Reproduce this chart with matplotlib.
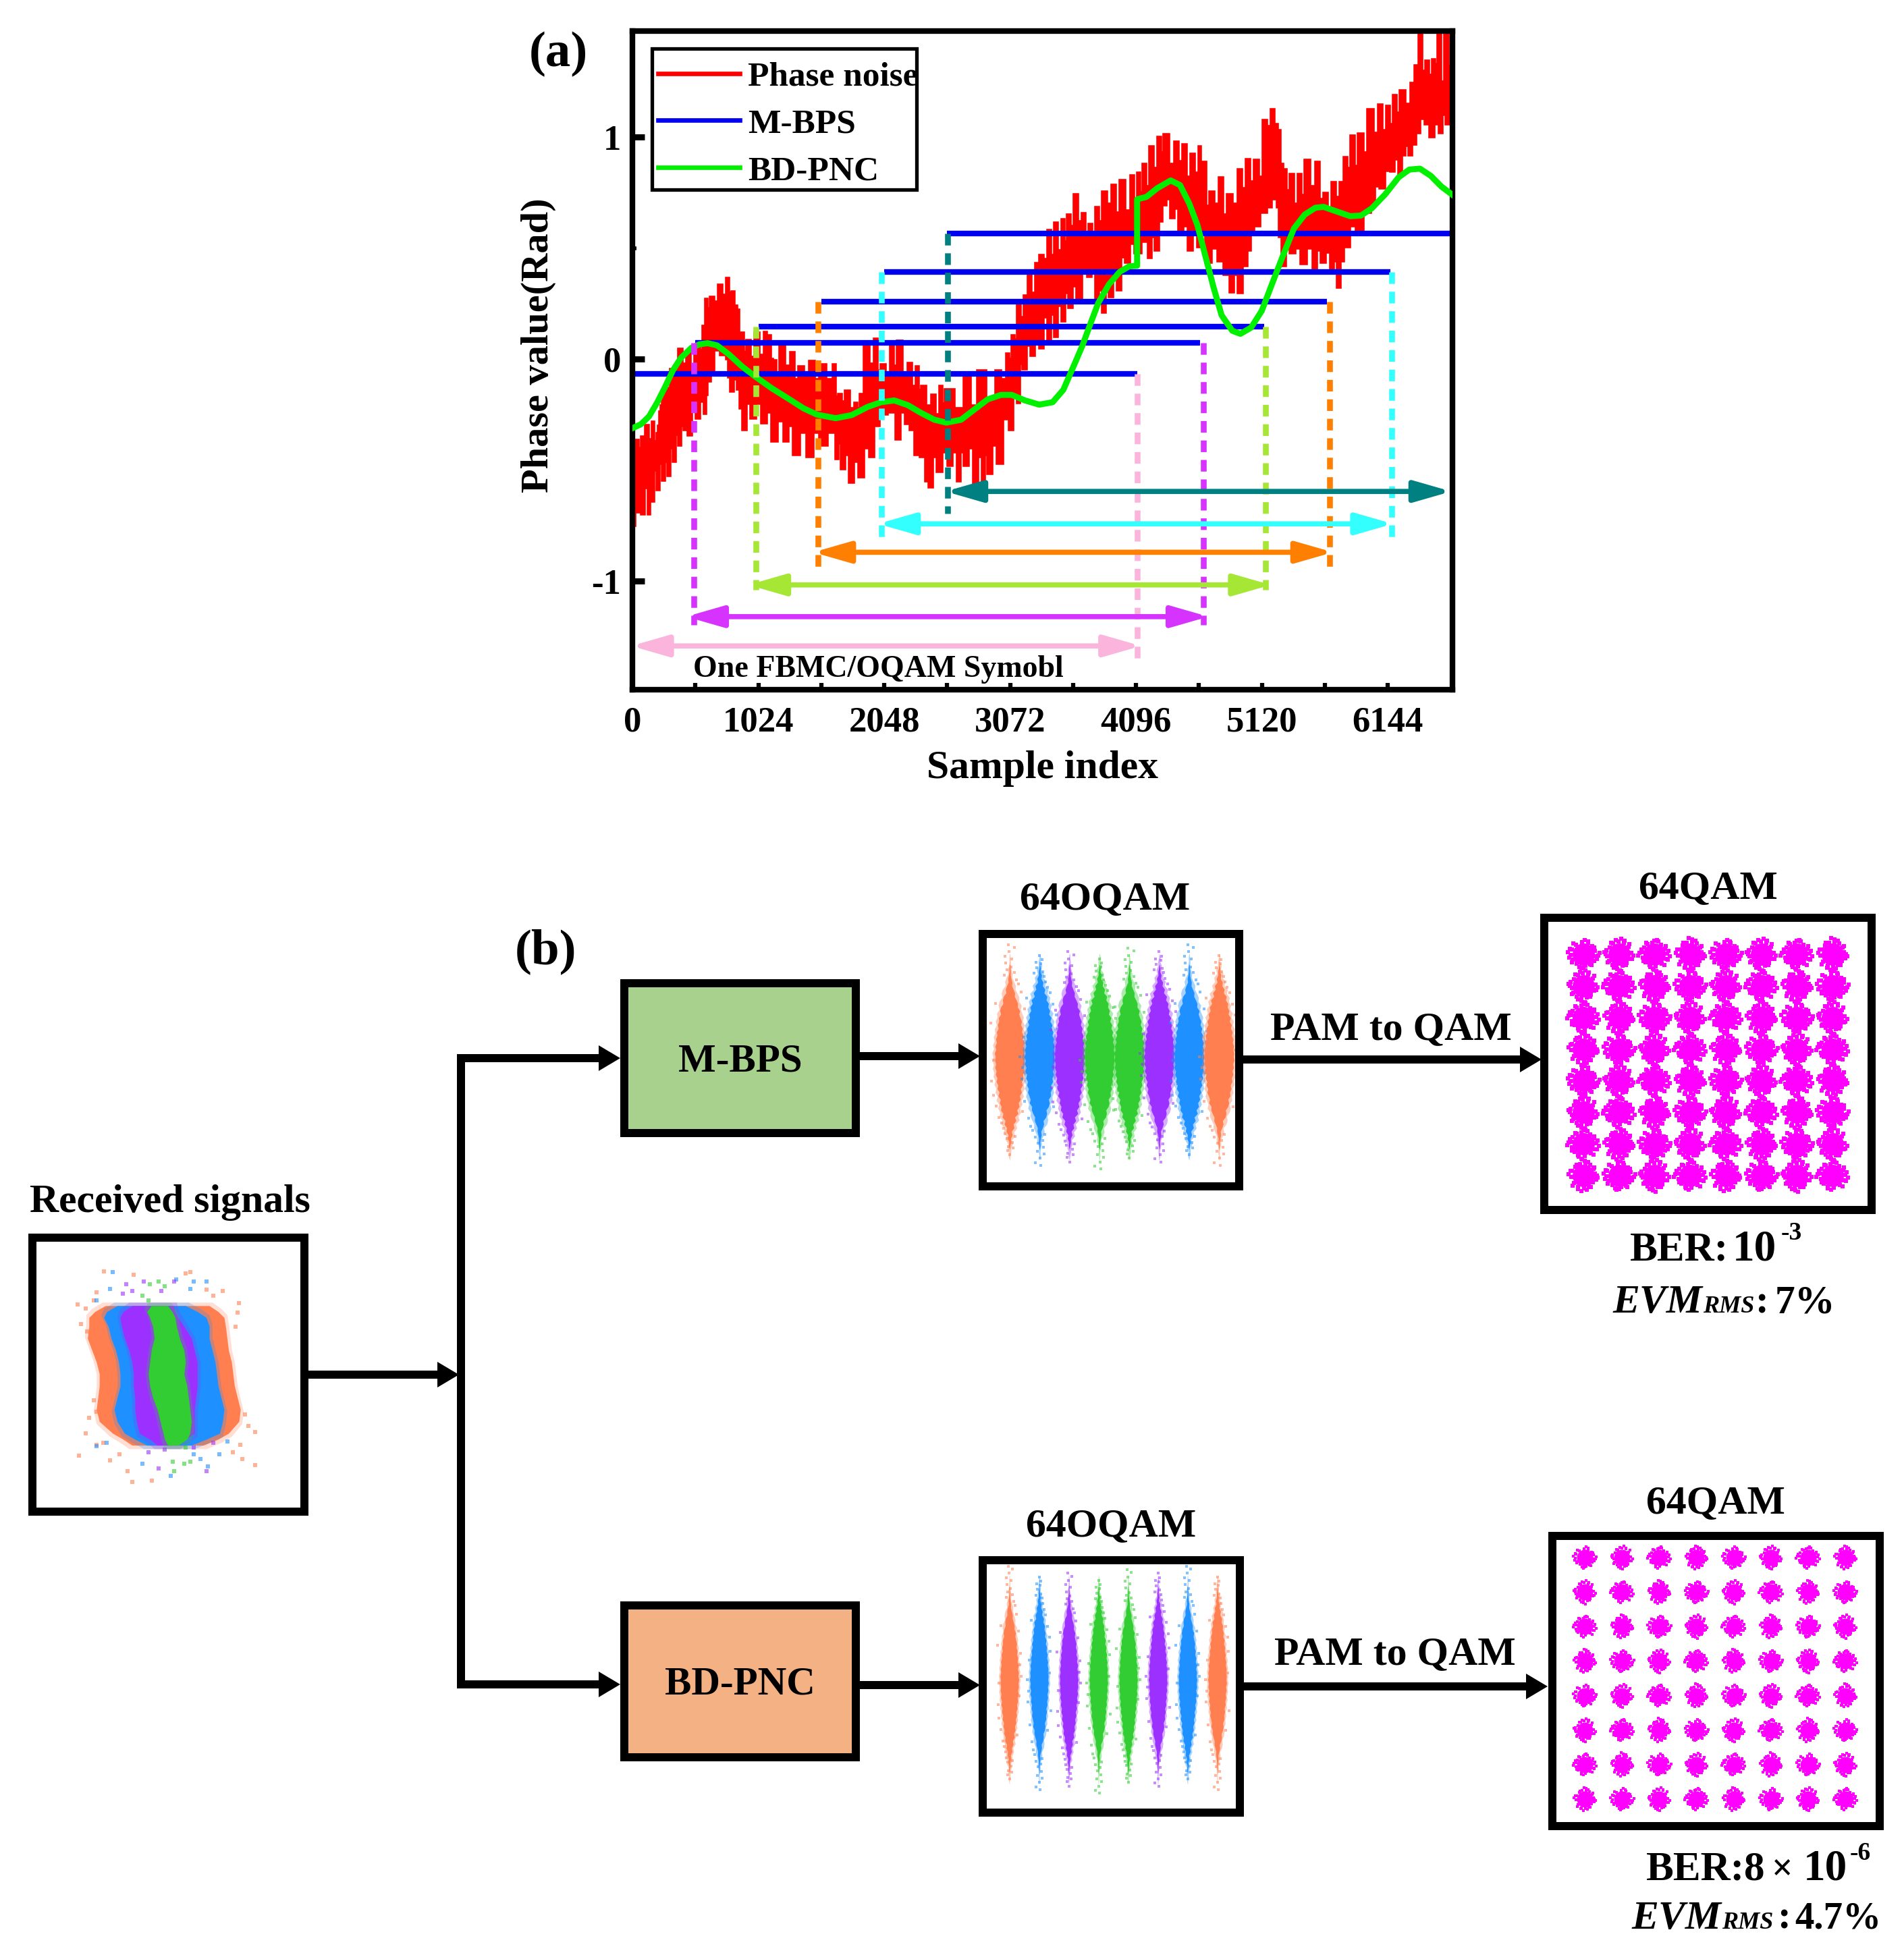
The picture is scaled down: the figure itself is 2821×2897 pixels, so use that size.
import numpy as np
import matplotlib
matplotlib.use('Agg')
import matplotlib.pyplot as plt
from matplotlib.lines import Line2D
from matplotlib.patches import Rectangle

W, H = 2821, 2897
plt.rcParams['font.family'] = ['Liberation Serif', 'DejaVu Serif']
plt.rcParams['font.weight'] = 'bold'

# ---------- panel (a) data ----------
noise_hi_x = [5,16,27,48,70,86,103,130,157,178,200,211,222,233,244,276,309,341,374,406,439,471,504,548,570,591,612,634,666,699,732,764,785,807,829,851,867,883,905,927,960,992,1030,1068,1090,1111,1128,1144,1171,1198,1241,1285,1317,1350,1393,1436,1480,1523,1578,1632,1654,1675,1702,1729,1767,1805,1827,1849,1865,1881,1925,1968,1995,2022,2060,2098,2125,2152,2195,2239,2271,2304,2325,2347,2390,2434,2466,2499,2520,2542,2618,2694,2748,2803,2879,2955,2998,3041,3063,3085,3107,3129,3155,3182,3198,3215,3247,3280,
              3309,3342,3374,3401,3429,3461,3494,3516,3538,3565,3592,3625,3658,3685,3712,3740,3767,3794,3821,3860,3898,3930,3963,4007,4050,4078,4105,4127,4149,4176,4203,4236,4269,4296,4323,4367,4410,4443,4476,4509,4541,4574,4607,4623,4639,4667,4694,4732,4770,4803,4836,4880,4923,4956,4988,5021,5054,5092,5130,5163,5196,5223,5250,5272,5294,5321,5348,5381,5414,5441,5468,5512,5555,5588,5621,5654,5686,5719,5752,5768,5784,5812,5839,5872,5904,5943,5981,6025,6068,6100,6133,6160,6188,6215,6242,6286,6330,6346,6362,6378,6395,6422,6450,6477,6504,6526,6548,6575,6602,6635,6668]
noise_hi_y = [-.43,-.40,-.364,-.40,-.349,-.39,-.298,-.36,-.283,-.37,-.333,-.30,-.237,-.21,-.141,-.13,-.045,-.03,.047,-.02,.037,-.03,.057,.04,.15,.27,.23,.28,.26,.335,.29,.364,.30,.305,.24,.224,.11,.118,.03,.087,.01,.118,.02,.123,.05,.108,.0,-.004,-.06,.057,-.03,.031,-.09,-.034,-.08,-.009,-.09,-.024,-.09,-.024,-.17,-.156,-.19,-.141,-.22,-.197,-.22,-.156,-.17,.057,-.02,.092,-.05,-.024,-.08,.057,-.03,.082,-.07,-.019,-.12,-.034,-.14,-.12,-.21,-.16,-.25,-.12,-.20,-.136,-.22,-.075,-.21,-.05,-.18,-.05,-.09,.026,.0,.107,.09,.244,.19,.285,.22,.381,.30,.432,
              .47,.45,.58,.47,.616,.49,.63,.53,.65,.60,.742,.62,.658,.56,.61,.56,.686,.62,.756,.70,.784,.66,.805,.67,.826,.70,.84,.75,.88,.78,.959,.86,1.0,.93,1.014,.88,.98,.89,.968,.82,.924,.84,.958,.80,.889,.69,.756,.70,.819,.65,.742,.70,.854,.77,.9,.80,.896,.82,1.077,1.05,1.126,1.06,1.03,.88,.854,.76,.833,.70,.833,.74,.896,.78,.889,.72,.749,.68,.798,.73,.798,.78,.91,.86,1.008,.87,1.015,.93,1.126,1.02,1.147,1.03,1.14,1.06,1.189,1.11,1.21,1.15,1.245,1.20,1.322,1.30,1.476,1.30,1.343,1.28,1.35,1.33,1.476,1.25,1.476,1.32,1.42]
noise_lo_x = [5,21,38,54,70,97,124,140,157,178,200,222,244,266,287,309,330,352,374,396,417,433,450,482,515,547,580,596,612,639,666,715,764,780,797,824,851,872,894,926,959,1002,1046,1090,1133,1181,1230,1268,1306,1360,1415,1469,1523,1588,1653,1675,1697,1729,1762,1800,1838,1881,1925,1968,2011,2076,2141,2179,2217,2255,2293,2336,2380,2396,2412,2445,2478,2521,2564,2602,2640,2667,2694,2732,2770,2808,2846,2867,2889,2927,2965,3014,3063,3095,3128,3150,3172,3204,3237,3273,
              3309,3342,3374,3401,3429,3461,3494,3521,3549,3581,3614,3657,3701,3734,3767,3794,3821,3849,3876,3908,3941,3974,4007,4045,4083,4137,4192,4220,4247,4280,4312,4345,4378,4410,4443,4481,4519,4557,4596,4628,4661,4710,4759,4808,4857,4890,4923,4961,5000,5027,5054,5108,5163,5201,5240,5261,5283,5315,5348,5391,5435,5484,5534,5566,5599,5637,5676,5703,5730,5757,5784,5833,5883,5943,6003,6041,6079,6122,6166,6199,6232,6259,6286,6313,6340,6373,6406,6444,6482,6520,6559,6586,6613,6640,6668]
noise_lo_y = [-.75,-.60,-.69,-.62,-.70,-.58,-.70,-.55,-.64,-.50,-.59,-.47,-.546,-.46,-.526,-.40,-.46,-.34,-.39,-.30,-.318,-.24,-.344,-.21,-.268,-.19,-.247,-.16,-.10,-.06,.04,.02,0,-.08,-.146,-.09,-.136,-.22,-.32,-.20,-.268,-.20,-.288,-.24,-.37,-.28,-.37,-.30,-.43,-.33,-.44,-.33,-.39,-.33,-.45,-.38,-.496,-.43,-.557,-.46,-.53,-.40,-.44,-.30,-.25,-.24,-.36,-.24,-.29,-.32,-.43,-.44,-.55,-.47,-.577,-.44,-.506,-.42,-.48,-.42,-.55,-.42,-.48,-.40,-.56,-.44,-.556,-.43,-.516,-.39,-.47,-.27,-.318,-.15,-.197,-.02,-.045,.06,.016,.09,
              .05,.19,.085,.20,.1,.24,.17,.30,.232,.33,.274,.40,.372,.39,.267,.31,.21,.33,.28,.40,.31,.46,.435,.52,.477,.53,.456,.55,.49,.62,.693,.72,.637,.68,.56,.60,.49,.56,.505,.56,.435,.50,.442,.38,.302,.38,.298,.42,.49,.56,.6,.66,.686,.72,.686,.55,.421,.50,.477,.50,.428,.50,.407,.49,.435,.48,.407,.44,.323,.44,.505,.60,.58,.66,.693,.78,.77,.85,.847,.90,.826,.92,.96,.92,.966,1.02,1.084,1.06,1.0,1.06,1.02,1.10,1.06,1.1,.728]

pnc_x = [5,70,135,200,265,330,395,482,547,612,688,786,894,1003,1133,1263,1393,1502,1653,1783,1914,2022,2130,2239,2347,2456,2553,2673,2781,2890,2998,3085,3193,3309,3418,3505,3582,3658,3723,3789,3876,3963,4040,4105,4105,4181,4269,4378,4454,4530,4596,4661,4727,4792,4879,4945,5032,5119,5206,5294,5381,5468,5555,5621,5730,5839,5926,6013,6122,6232,6319,6406,6493,6581,6670]
pnc_y = [-.31,-.293,-.258,-.197,-.126,-.05,.006,.052,.067,.072,.062,.021,-.034,-.08,-.131,-.176,-.222,-.25,-.266,-.252,-.215,-.194,-.186,-.207,-.242,-.273,-.286,-.273,-.227,-.181,-.161,-.161,-.186,-.205,-.194,-.138,-.04,.058,.156,.253,.337,.393,.418,.421,.72,.731,.77,.805,.784,.70,.603,.463,.323,.198,.128,.114,.142,.218,.344,.47,.589,.651,.682,.686,.665,.644,.647,.679,.742,.819,.854,.858,.826,.777,.74]

bps_start = [0,512,1024,1536,2048,2560]
bps_end = [4107,4618,5141,5647,6166,6670]
bps_y = [-.067,.073,.146,.258,.393,.567]
win_colors = ['#FBB4DC','#D633FF','#A6E635','#FF8000','#33FFFF','#008080']
dash_start_x = [None,497,1004,1511,2028,2566]
dash_end_x = [4107,4645,5152,5669,6176,None]
dash_bottom = [-1.365,-1.197,-1.04,-.94,-.815,-.697]
arrow_x0 = [20,467,973,1501,2028,2576]
arrow_x1 = [4107,4655,5162,5669,6156,6630]
arrow_y = [-1.292,-1.16,-1.017,-.87,-.742,-.596]
xt = [0,1024,2048,3072,4096,5120,6144]
xt_minor = [512,1536,2560,3584,4608,5632]

# ---------- panel (b) data ----------
oqam_levels = [-7,-5,-3,-1,1,3,5,7]
oqam_colors = ['#FF7F50','#1E90FF','#9B30FF','#32CD32','#32CD32','#9B30FF','#1E90FF','#FF7F50']
spindle_q = [6.5,6.25,6.0,5.75,5.5,5.25,5.0,4.75,4.5,4.25,4.0,3.75,3.5,3.25,3.0,2.75,2.5,2.25,2.0,1.75,1.5,1.25,1.0,.75,.5,.25,0,-.25,-.5,-.75,-1,-1.25,-1.5,-1.75,-2,-2.25,-2.5,-2.75,-3,-3.25,-3.5,-3.75,-4,-4.25,-4.5,-4.75,-5,-5.25,-5.5,-5.75,-6,-6.25,-6.5]
spindle_left = [.01,.04,.03,.07,.12,.09,.2,.28,.24,.42,.48,.44,.6,.66,.6,.75,.72,.82,.76,.88,.84,.94,.88,.98,.92,1.02,.96,1.0,.93,.99,.9,.95,.84,.9,.78,.84,.7,.78,.62,.68,.56,.6,.44,.5,.3,.36,.2,.24,.1,.14,.05,.07,.01]
spindle_right = [.02,.03,.06,.05,.1,.16,.14,.24,.34,.32,.44,.54,.52,.68,.62,.7,.8,.74,.86,.8,.92,.86,.98,.9,1.0,.94,1.03,.95,1.0,.91,.97,.86,.92,.8,.86,.72,.8,.66,.72,.58,.64,.48,.56,.34,.42,.24,.3,.12,.18,.07,.08,.03,.01]
speck_di = [1.1,-1.15,1.2,-1.05,1.25,-1.2,1.1,-1.3,.9,-1.0,.95,-.85,.7,-.75,.55,-.6,.4,-.45,.3,-.3,.2,-.2,.1,-.1,.25,-.15,.35,-.35,.15,.0,.3,-.25,.05,-.3,.2,.1]
speck_q = [.5,-.8,2.0,1.4,-2.2,-1.6,3.0,.0,3.8,-3.2,-3.6,4.2,4.6,-4.4,5.0,-5.0,5.4,-5.3,5.8,-5.8,6.1,6.4,6.7,-6.2,-6.5,-6.8,-5.6,6.0,7.0,7.3,-7.0,6.8,-7.3,-7.6,-6.0,-7.8]
qam_levels = [-7,-5,-3,-1,1,3,5,7]
blob_dx = [1.05,.9,.6,.2,-.3,-.7,-1.0,-1.1,-.85,-.45,.05,.5,.85,1.2,.15,-.2,-1.3,1.3,.7,-.6,.3,-.95,1.0,-.1,1.15,-1.15,.45,-.5]
blob_dy = [.2,.6,.95,1.1,1.05,.8,.45,-.1,-.65,-1.05,-1.15,-.95,-.6,.0,1.35,-1.4,.15,-.2,-1.0,1.0,-1.25,-.9,.75,1.45,-.35,.4,1.2,-1.2]

rx_q = [4.6,4.2,3.8,3.2,2.4,1.6,.8,0,-.8,-1.6,-2.4,-3.2,-4,-4.4,-4.8]
rx_orange_l = [-4.0,-4.7,-5.1,-5.1,-5.2,-4.9,-4.6,-4.4,-4.4,-4.5,-4.6,-4.4,-3.5,-2.8,-2.2]
rx_orange_r = [3.0,3.6,4.0,4.1,4.2,4.3,4.5,4.6,4.7,4.9,5.1,5.0,4.3,3.6,2.6]
rx_blue_l = [-3.2,-3.9,-4.1,-3.8,-3.6,-3.3,-3.1,-3.0,-3.0,-3.2,-3.4,-3.2,-2.7,-2.0,-1.2]
rx_blue_r = [1.4,2.2,2.8,3.0,3.0,3.2,3.4,3.5,3.6,3.8,4.0,3.9,3.7,2.8,1.8]
rx_purple_l = [-2.2,-2.8,-3.0,-2.9,-2.7,-2.4,-2.2,-2.1,-2.1,-2.0,-2.0,-1.9,-1.7,-1.0,-.5]
rx_purple_r = [.6,.7,.9,1.3,1.8,2.0,2.2,2.2,2.2,2.1,2.0,2.0,2.0,1.4,.8]
rx_green_l = [-.9,-1.2,-1.0,-.8,-.7,-.9,-1.0,-1.1,-1.0,-.8,-.5,-.3,-.1,.0,.2]
rx_green_r = [.2,.5,.7,.8,1.0,1.3,1.4,1.3,1.5,1.6,1.7,1.8,1.7,1.5,.9]
rx_orange_si = [-4.09,-5.87,-5.33,-4.57,-4.78,2.83,3.26,3.91,1.74,1.41,-2.07,-5.65,-5.22,5.0,4.89,4.78,-4.78,-4.57,-5.11,-5.33,-4.57,-4.13,-3.04,-2.17,-2.5,-.87,6.09,6.09,5.43,5.65,5.11,4.57,5.22,-5.76,-3.7]
rx_orange_sq = [6.89,4.7,4.39,5.5,4.94,5.66,5.26,5.58,6.86,6.78,6.7,3.35,2.87,4.78,4.15,3.19,-1.75,-2.55,-2.95,-3.99,-4.78,-4.63,-5.42,-7.26,-6.54,-7.18,-6.14,-3.91,-2.71,-3.51,-4.78,-5.26,-5.74,-5.5,-5.82]
rx_blue_si = [-3.48,-3.7,-4.57,1.96,.76,1.74,2.83,-4.57,-3.91,-1.52,1.96,.43,2.93,3.7,4.24,2.39]
rx_blue_sq = [6.86,5.74,4.94,6.22,6.38,5.74,6.22,-4.86,-4.63,-6.06,-5.42,-6.86,-6.22,-5.42,-4.55,-5.74]
rx_purple_si = [-2.61,-2.17,-1.41,.65,-.22,-2.83,-1.09,-.43,2.83,3.26,1.96,0]
rx_purple_sq = [6.06,5.58,6.22,6.22,5.58,5.42,-5.26,-6.38,-6.54,-4.63,-4.94,-5.1]
rx_green_si = [-1.52,-.98,-.43,0,-1.09,.54,1.41,1.74,.65,1.3]
rx_green_sq = [5.26,6.06,6.22,5.9,4.94,-5.9,-4.94,-5.9,-6.54,-6.06]

# ---------- helpers ----------
fig = plt.figure(figsize=(W/100, H/100), dpi=100, facecolor='white')
PT = 72/100

def rect(x0, y0, x1, y1):
    return [x0/W, 1-y1/H, (x1-x0)/W, (y1-y0)/H]

ov = fig.add_axes([0, 0, 1, 1], zorder=4)
ov.set_xlim(0, W); ov.set_ylim(H, 0); ov.axis('off')

def T(x, y, s, size, ha='center', va='center', **kw):
    ov.text(x, y, s, fontsize=size, ha=ha, va=va, fontweight='bold', color='k', **kw)

def arrow(x0, y, x1):
    L = 32; H2 = 19
    ov.plot([x0, x1-L+2], [y, y], color='k', lw=12*PT, solid_capstyle='butt')
    ov.fill([x1-L, x1, x1-L], [y-H2, y, y+H2], color='k', lw=0)

def frame(x0, y0, x1, y1, cx, cy, ux, uy, lw=12):
    a = fig.add_axes(rect(x0+lw/2, y0+lw/2, x1-lw/2, y1-lw/2), zorder=2)
    a.set_xlim((x0+lw/2-cx)/ux, (x1-lw/2-cx)/ux)
    a.set_ylim((cy-(y1-lw/2))/uy, (cy-(y0+lw/2))/uy)
    a.set_xticks([]); a.set_yticks([])
    for s in a.spines.values():
        s.set_linewidth(lw*PT)
    return a

# ---------- panel (a) ----------
ax = fig.add_axes(rect(937, 46, 2152, 1022), zorder=3)
ax.set_xlim(0, 6670); ax.set_ylim(-1.489, 1.478)

def steps(x, y):
    x = np.asarray(x, float); y = np.asarray(y, float)
    return np.repeat(x, 2)[1:], np.repeat(y, 2)[:-1]
hx, hy = steps(noise_hi_x, noise_hi_y)
lx, ly = steps(noise_lo_x, noise_lo_y)
ax.fill(np.r_[hx, lx[::-1]], np.r_[hy, ly[::-1]], color='#FF0000', lw=2.6, zorder=1)
for xs, xe, y in zip(bps_start, bps_end, bps_y):
    ax.plot([xs, xe], [y, y], color='#0000F0', lw=6.0, solid_capstyle='butt', zorder=2)
ax.plot(pnc_x, pnc_y, color='#00F000', lw=6.4, solid_joinstyle='round', zorder=3)
for y, dx0, dx1, c, b in zip(bps_y, dash_start_x, dash_end_x, win_colors, dash_bottom):
    for x in (dx0, dx1):
        if x is not None:
            ax.plot([x, x], [y, b], color=c, lw=6.2, ls=(0, (2.0, 1.35)), dash_capstyle='butt', zorder=4)
for x0, x1, ay, c in zip(arrow_x0, arrow_x1, arrow_y, win_colors):
    ax.annotate('', xy=(x1+30, ay), xytext=(x0-30, ay), zorder=5, annotation_clip=False,
                arrowprops=dict(arrowstyle='<|-|>,head_length=3.3,head_width=0.95', mutation_scale=10,
                                color=c, lw=5.5, shrinkA=0, shrinkB=0))
ax.set_xticks(xt); ax.set_xticks(xt_minor, minor=True)
ax.set_yticks([-1, 0, 1]); ax.set_yticklabels(['-1', '0', '1']); ax.set_yticks([.5], minor=True)
ax.tick_params(axis='x', which='both', direction='in', length=7, width=4.5, labelsize=38, pad=18)
ax.tick_params(axis='y', which='major', direction='in', length=13, width=6.5, labelsize=38, pad=12)
ax.tick_params(axis='y', which='minor', direction='in', length=4, width=4)
for s in ax.spines.values():
    s.set_linewidth(6)
ax.set_xlabel('Sample index', fontsize=43, fontweight='bold', labelpad=12.5)
ax.set_ylabel('Phase value(Rad)', fontsize=42, fontweight='bold', labelpad=38, y=.523)
ax.add_patch(Rectangle((966, 72), 392, 209, transform=ov.transData, fc='white', ec='k', lw=3.8, zorder=9, clip_on=False))
leg = ax.legend([Line2D([], [], color='#FF0000', lw=4.8), Line2D([], [], color='#0000F0', lw=4.8), Line2D([], [], color='#00F000', lw=4.8)],
                ['Phase noise', 'M-BPS', 'BD-PNC'], loc='upper left', bbox_to_anchor=(.0315, .954), fontsize=37,
                frameon=False, borderpad=0, labelspacing=.44,
                handlelength=2.34, handletextpad=.25, borderaxespad=0)
leg.set_zorder(10)
ax.text(1998, -1.397, 'One FBMC/OQAM Symobl', fontsize=33, fontweight='bold', ha='center', va='center', zorder=6)
T(827, 80, '(a)', 54)

# ---------- panel (b) boxes and text ----------
T(809, 1410, '(b)', 54)
T(252, 1782, 'Received signals', 43)
T(1637, 1333, '64OQAM', 43); T(2531, 1317, '64QAM', 43)
T(1646, 2262, '64OQAM', 43); T(2542, 2228, '64QAM', 43)
T(2061, 1526, 'PAM to QAM', 43); T(2067, 2452, 'PAM to QAM', 43)

for (x0, y0, x1, y1, fc, s) in [(919, 1451, 1274, 1685, '#A9D18E', 'M-BPS'), (919, 2373, 1274, 2610, '#F4B183', 'BD-PNC')]:
    ov.add_patch(Rectangle((x0+6, y0+6), x1-x0-12, y1-y0-12, fc=fc, ec='k', lw=12*PT))
    T((x0+x1)/2, (y0+y1)/2+5, s, 42.5)

ov.plot([683, 683], [1562, 2502], color='k', lw=12*PT, solid_capstyle='butt')
arrow(457, 2037, 680)
arrow(683, 1568, 919); arrow(683, 2496, 919)
arrow(1274, 1565, 1452); arrow(1274, 2497, 1452)
arrow(1842, 1570, 2284); arrow(1843, 2499, 2293)

def B(x, y, s, size, style='normal'):
    ov.text(x, y, s, fontsize=size, ha='left', va='baseline', fontstyle=style, fontweight='bold', color='k')
B(2415, 1868, 'BER:', 44); B(2567, 1868, '10', 47); B(2639, 1837, '-3', 27)
B(2389, 1945, 'EVM', 43, 'italic'); B(2523, 1945, 'RMS', 26, 'italic'); B(2600, 1945, ':', 43); B(2630, 1945, '7%', 43)
B(2439, 2785, 'BER:', 44); B(2584, 2785, '8', 44); B(2625, 2785, '\u00d7', 40); B(2672, 2785, '10', 47); B(2741, 2756, '-6', 27)
B(2417, 2858, 'EVM', 43, 'italic'); B(2551, 2858, 'RMS', 26, 'italic'); B(2633, 2858, ':', 43); B(2659, 2858, '4.7%', 41)

# ---------- insets ----------
def oqam(box, cx, cy, ux, scale, qscale):
    a = frame(*box, cx, cy, ux, ux)
    q = np.array(spindle_q) * qscale
    for k, (lev, c) in enumerate(zip(oqam_levels, oqam_colors)):
        L = np.array(spindle_left) * scale
        R = np.array(spindle_right) * scale
        if k % 2:
            L, R = R[::-1], L[::-1]
        a.fill_betweenx(q*1.06, lev-L*1.16, lev+R*1.16, color=c, alpha=.4, lw=0)
        a.fill_betweenx(q*.95, lev-L, lev+R, color=c, lw=0)
        sign = 1 if k % 2 else -1
        shift = (k % 3 - 1) * .25
        a.scatter(lev+np.array(speck_di)*scale*sign, (np.array(speck_q)+shift)*qscale*sign*.93,
                  s=9, marker='s', color=c, alpha=.55, lw=0)

oqam((1450, 1378, 1842, 1764), 1651, 1566, 22.15, 1.0, 1.0)
oqam((1450, 2306, 1843, 2692), 1649.5, 2489, 22.0, .62, 1.02)

def qam(box, cx, cy, ux, uy, ds, spk):
    a = frame(*box, cx, cy, ux, uy)
    dx = np.array(blob_dx) * (ds/2) / ux
    dy = np.array(blob_dy) * (ds/2) / uy
    for i, Ii in enumerate(qam_levels):
        for j, Qq in enumerate(qam_levels):
            a.scatter([Ii], [Qq], s=(ds*PT)**2, marker='o', color='#FF00FF', lw=0)
            k = (3*i + 5*j) % 4
            px, py = [(dx, dy), (-dy*uy/ux, dx*ux/uy), (-dx, -dy), (dy*uy/ux, -dx*ux/uy)][k]
            a.scatter(Ii+px, Qq+py, s=(spk*PT)**2, marker='s', color='#FF00FF', lw=0)

qam((2282, 1354, 2779, 1799), 2530.5, 1578, 26.37, 23.43, 33, 6)
qam((2294, 2270, 2791, 2712), 2541, 2487, 27.57, 25.57, 24, 5)

a = frame(42, 1828, 457, 2246, 244, 2036, 22, 22)
q = np.array(rx_q)
for l, r, si, sq, c in [(rx_orange_l, rx_orange_r, rx_orange_si, rx_orange_sq, '#FF7F50'),
                        (rx_blue_l, rx_blue_r, rx_blue_si, rx_blue_sq, '#1E90FF'),
                        (rx_purple_l, rx_purple_r, rx_purple_si, rx_purple_sq, '#9B30FF'),
                        (rx_green_l, rx_green_r, rx_green_si, rx_green_sq, '#32CD32')]:
    a.fill_betweenx(q*1.05, np.array(l)-.2, np.array(r)+.2, color=c, alpha=.25, lw=0)
    a.fill_betweenx(q, l, r, color=c, lw=0)
    a.scatter(si, sq, s=18, marker='s', color=c, alpha=.6, lw=0)

fig.savefig('out.png', dpi=100, facecolor='white')
